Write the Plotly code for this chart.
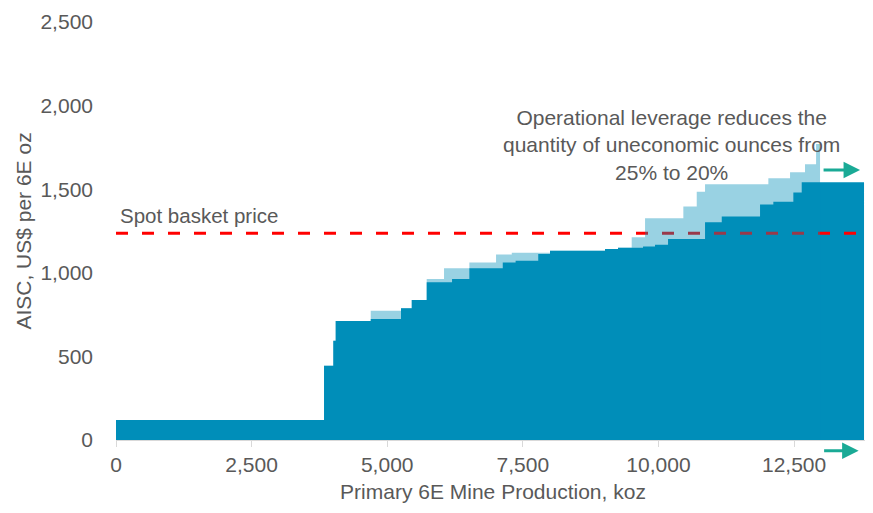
import numpy as np
import plotly.graph_objects as go

# Cost curve after operational leverage (dark series): production per step (koz) and AISC (US$/6E oz)
dark_production = [3835, 171, 44, 646, 558, 198, 276, 467, 319, 616, 237, 417, 217,
                   1014, 240, 461, 221, 240, 682, 308, 706, 245, 369, 154, 1149]
dark_aisc = [120, 444, 594, 712, 724, 788, 837, 943, 963, 1027, 1062, 1072, 1112,
             1132, 1142, 1150, 1158, 1168, 1202, 1302, 1336, 1409, 1425, 1481, 1541]

# Cost curve before (light series)
light_production = [3835, 171, 44, 646, 558, 198, 276, 319, 467, 492, 290, 705, 1014,
                    240, 252, 246, 706, 247, 153, 1167, 400, 276, 204, 73]
light_aisc = [120, 444, 594, 712, 773, 788, 837, 963, 1027, 1062, 1110, 1120, 1132,
              1142, 1150, 1212, 1326, 1396, 1485, 1530, 1565, 1601, 1649, 1770]

spot_basket_price = 1236

x_ticks = [0, 2500, 5000, 7500, 10000, 12500]
x_tick_labels = ["0", "2,500", "5,000", "7,500", "10,000", "12,500"]
y_ticks = [0, 500, 1000, 1500, 2000, 2500]
y_tick_labels = ["0", "500", "1,000", "1,500", "2,000", "2,500"]

annotation_text = "Operational leverage reduces the<br>quantity of uneconomic ounces from<br>25% to 20%"

DARK = "rgb(0,142,186)"
LIGHT_OVERLAY = "rgba(0,142,186,0.4)"
RED = "rgb(255,0,0)"
TEAL = "rgb(26,170,150)"
GREY = "#595959"
FONT = "Liberation Sans, Arial, sans-serif"
FS = 21


def step_xy(prod, cost):
    edges = np.concatenate([[0], np.cumsum(prod)])
    ys = list(cost) + [cost[-1]]
    return edges, ys


dx, dy = step_xy(dark_production, dark_aisc)
lx, ly = step_xy(light_production, light_aisc)
total = float(dx[-1])

fig = go.Figure()
fig.add_trace(go.Scatter(x=dx, y=dy, mode="lines", line=dict(shape="hv", width=0, color=DARK),
                         fill="tozeroy", fillcolor=DARK, hoverinfo="skip", showlegend=False))
fig.add_trace(go.Scatter(x=[0, total], y=[spot_basket_price, spot_basket_price], mode="lines",
                         line=dict(color=RED, width=3, dash="12px,14px"),
                         hoverinfo="skip", showlegend=False))
fig.add_trace(go.Scatter(x=lx, y=ly, mode="lines", line=dict(shape="hv", width=0, color=LIGHT_OVERLAY),
                         fill="tozeroy", fillcolor=LIGHT_OVERLAY, hoverinfo="skip", showlegend=False))

fig.add_annotation(x=0, y=spot_basket_price, text="Spot basket price", showarrow=False,
                   xanchor="left", yanchor="bottom", xshift=2, yshift=4,
                   font=dict(size=20.5, color=GREY, family=FONT))
fig.add_annotation(x=10240, y=1520, text=annotation_text, showarrow=False,
                   xanchor="center", yanchor="bottom", align="center",
                   font=dict(size=FS, color=GREY, family=FONT))
# arrows
fig.add_annotation(x=13717, y=1615, ax=-38, ay=0, text="", showarrow=True,
                   arrowhead=2, arrowsize=1.1, arrowwidth=3, arrowcolor=TEAL)
fig.add_annotation(x=13690, xref="x", y=-0.026, yref="paper", ax=-36, ay=0, text="", showarrow=True,
                   arrowhead=2, arrowsize=1.1, arrowwidth=3, arrowcolor=TEAL)

fig.update_layout(
    width=873, height=513,
    margin=dict(l=108, r=11, t=14, b=81),
    paper_bgcolor="white", plot_bgcolor="white",
    font=dict(family=FONT, size=FS, color=GREY),
    xaxis=dict(range=[0, 13900], tickvals=x_ticks, ticktext=x_tick_labels, automargin=False,
               showgrid=False, zeroline=False, showline=True, linecolor="#d9d9d9", linewidth=1,
               ticks="outside", ticklen=6, tickcolor="#d9d9d9",
               title=dict(text="Primary 6E Mine Production, koz", standoff=9,
                          font=dict(size=FS, color=GREY)),
               tickfont=dict(size=FS, color=GREY)),
    yaxis=dict(range=[0, 2500], tickvals=y_ticks, ticktext=y_tick_labels, automargin=False,
               showgrid=False, zeroline=False, showline=False, ticks="",
               ticklabelstandoff=22,
               title=dict(text="AISC, US$ per 6E oz", standoff=3,
                          font=dict(size=FS, color=GREY)),
               tickfont=dict(size=FS, color=GREY)),
)

fig.write_html("out.html")
